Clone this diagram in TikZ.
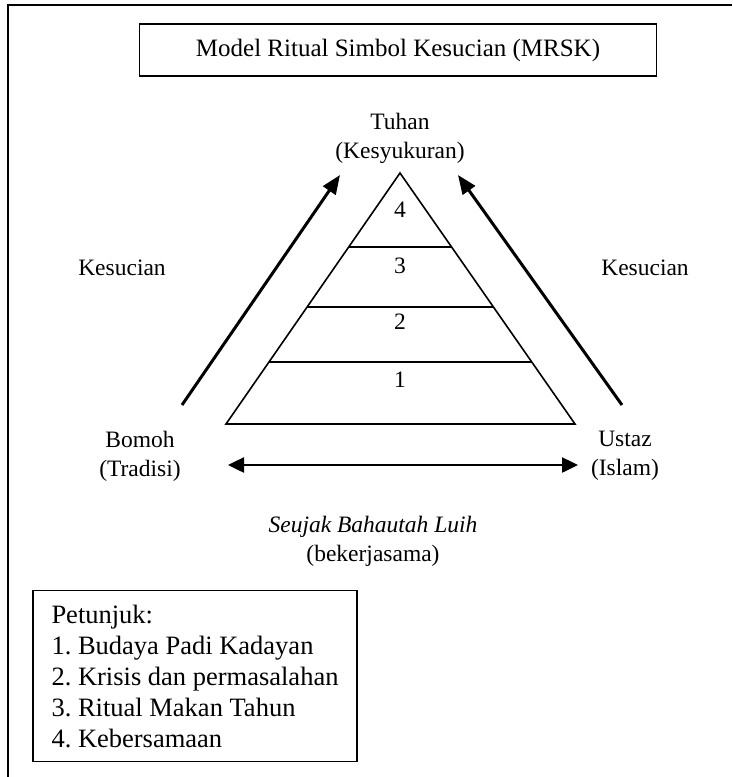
\documentclass[tikz,border=0pt]{standalone}
\usepackage{fontspec}
\setmainfont{Liberation Serif}
\usetikzlibrary{arrows.meta}
\usetikzlibrary{calc}
\tikzset{
    txt/.style={
        align=center,
        inner sep=0pt,
        font=\fontsize{23.5}{29}\selectfont
    },
    titlebox/.style={
        draw,
        line width=1.5pt,
        minimum width=517pt,
        minimum height=52pt,
        font=\fontsize{25}{30}\selectfont
    },
    legendbox/.style={
        draw,
        line width=1.5pt,
        align=left,
        minimum width=324pt,
        minimum height=171pt,
        font=\fontsize{26.5}{31}\selectfont\frenchspacing
    },
    upflow/.style={
        line width=3pt,
        -{Triangle[length=19pt, width=15pt]}
    },
    linkflow/.style={
        line width=2.5pt,
        {Triangle[length=16pt, width=15pt]}-{Triangle[length=16pt, width=15pt]}
    }
}

\begin{document}
\begin{tikzpicture}[x=1pt, y=-1pt]
    \useasboundingbox (0,0) rectangle (732,777);
    % frame, cut off at the page edge
    \draw[line width=2pt] (732,5) -- (8,5) -- (8,777);

    \node[titlebox] (judul) at (398,50) {Model Ritual Simbol Kesucian (MRSK)};
    \node[txt] (tuhan) at (400,138) {Tuhan\\(Kesyukuran)};

    % pyramid
    \coordinate (puncak) at (400,173);
    \coordinate (kiri) at (226,424);
    \coordinate (kanan) at (575,424);
    \draw[line width=1.6pt] (puncak) -- (kiri) -- (kanan) -- cycle;
    \foreach \t in {0.295, 0.534, 0.753}
        \draw[line width=1.6pt] ($(puncak)!\t!(kiri)$) -- ($(puncak)!\t!(kanan)$);

    \node[txt] (aras4) at (400,210) {4};
    \node[txt] (aras3) at (400,266) {3};
    \node[txt] (aras2) at (400,322) {2};
    \node[txt] (aras1) at (400,380) {1};

    \node[txt] (suciA) at (122,268) {Kesucian};
    \node[txt] (suciB) at (645,268) {Kesucian};

    \coordinate (naikA1) at (182,405);
    \coordinate (naikA2) at (340,175);
    \coordinate (naikB1) at (622,405);
    \coordinate (naikB2) at (458,175);
    \draw[upflow] (naikA1) -- (naikA2);
    \draw[upflow] (naikB1) -- (naikB2);

    \node[txt] (bomoh) at (140,456) {Bomoh\\(Tradisi)};
    \node[txt] (ustaz) at (625,456) {Ustaz\\(Islam)};
    \coordinate (jalinA) at (228,465);
    \coordinate (jalinB) at (578,465);
    \draw[linkflow] (jalinA) -- (jalinB);

    \node[txt] (seujak) at (373,541) {\textit{Seujak Bahautah Luih}\\(bekerjasama)};

    \node[legendbox] (petunjuk) at (195,676) {Petunjuk:\\%
        1. Budaya Padi Kadayan\\%
        2. Krisis dan permasalahan\\%
        3. Ritual Makan Tahun\\%
        4. Kebersamaan};
\end{tikzpicture}
\end{document}
